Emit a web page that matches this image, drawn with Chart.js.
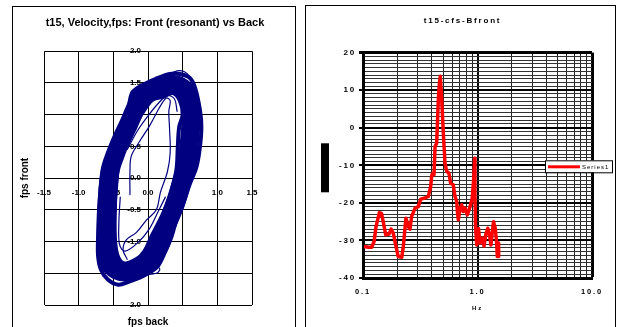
<!DOCTYPE html>
<html>
<head>
<meta charset="utf-8">
<script src="https://cdn.jsdelivr.net/npm/chart.js@4/dist/chart.umd.min.js"></script>
<style>
  body { margin: 0; background: #fff; width: 617px; height: 327px; overflow: hidden; position: relative; }
  .box { position: absolute; border: 1px solid #000; }
  canvas { position: absolute; top: 0; }
</style>
</head>
<body>
<div class="box" style="left:12px; top:6px; width:282px; height:340px;"></div>
<div class="box" style="left:305px; top:5px; width:309px; height:340px;"></div>
<canvas id="velocity" width="300" height="327" style="left:0px"></canvas>
<canvas id="spectrum" width="317" height="327" style="left:300px"></canvas>
<script>
// ---- left chart: front vs back velocity (fps) ----
const bandMid = [[0.12,1.40],[0.31,1.48],[0.50,1.42],[0.60,1.22],[0.62,0.95],[0.60,0.60],[0.56,0.25],[0.49,-0.05],[0.40,-0.39],[0.30,-0.66],[0.19,-0.92],[0.08,-1.18],[-0.05,-1.36],[-0.25,-1.47],[-0.45,-1.45],[-0.57,-1.30],[-0.60,-1.00],[-0.59,-0.45],[-0.55,0.10],[-0.47,0.38],[-0.38,0.62],[-0.28,0.85],[-0.17,1.12],[-0.05,1.32],[0.12,1.40]];
const outerLoop = [[0.12,1.57],[0.31,1.64],[0.46,1.64],[0.60,1.58],[0.68,1.42],[0.75,1.07],[0.77,0.81],[0.75,0.50],[0.70,0.18],[0.60,-0.10],[0.51,-0.39],[0.41,-0.66],[0.34,-0.92],[0.24,-1.18],[0.14,-1.39],[0.02,-1.49],[-0.12,-1.57],[-0.27,-1.63],[-0.43,-1.68],[-0.58,-1.60],[-0.68,-1.44],[-0.72,-1.23],[-0.72,-0.92],[-0.70,-0.39],[-0.65,0.10],[-0.55,0.34],[-0.46,0.50],[-0.36,0.81],[-0.27,1.18],[-0.22,1.36],[-0.07,1.47],[0.12,1.57]];
const innerLoop = [[0.22,1.28],[0.36,1.34],[0.46,1.22],[0.50,1.00],[0.45,0.81],[0.43,0.50],[0.41,0.13],[0.34,-0.18],[0.22,-0.55],[0.05,-0.92],[-0.05,-1.15],[-0.17,-1.28],[-0.36,-1.34],[-0.46,-1.13],[-0.48,-0.60],[-0.46,-0.13],[-0.41,0.29],[-0.27,0.60],[-0.17,0.86],[-0.02,1.13],[0.07,1.24],[0.22,1.28]];
const topOvershoot = [[0.28,1.62],[0.42,1.69],[0.52,1.68],[0.60,1.60],[0.67,1.40]];
const bottomBump = [[-0.10,-1.40],[0.08,-1.38],[0.17,-1.43],[0.12,-1.50],[-0.05,-1.52]];
const startTrace = [[-0.26,-0.26],[-0.26,0.12],[-0.24,0.35],[-0.12,0.58],[0.02,0.82],[0.16,1.10],[0.26,1.26],[0.32,1.22],[0.30,1.05],[0.31,0.80],[0.32,0.40],[0.28,0.10],[0.18,-0.22],[0.12,-0.50],[-0.02,-0.66],[-0.17,-0.86],[-0.31,-0.97],[-0.36,-1.13],[-0.30,-1.28]];
const innerTraceB = [[-0.40,-0.30],[-0.42,-0.70],[-0.41,-1.05],[-0.33,-1.15],[-0.15,-1.02],[0.02,-0.80],[0.15,-0.52],[0.25,-0.30]];
const innerTraceC = [[-0.30,0.45],[-0.15,0.75],[0.00,0.98],[0.15,1.18],[0.28,1.30],[0.38,1.25],[0.42,1.05]];

// ---- right chart: t15-cfs-Bfront spectrum ----
const freqHz = [0.102,0.112,0.119,0.125,0.130,0.139,0.145,0.151,0.158,0.169,0.176,0.184,0.193,0.203,0.218,0.225,0.237,0.249,0.257,0.266,0.285,0.304,0.319,0.348,0.372,0.390,0.399,0.411,0.417,0.426,0.440,0.455,0.465,0.473,0.487,0.503,0.520,0.538,0.563,0.583,0.614,0.636,0.658,0.670,0.680,0.703,0.727,0.752,0.778,0.815,0.861,0.900,0.925,0.945,0.950,0.962,0.985,1.02,1.05,1.10,1.14,1.18,1.23,1.28,1.31,1.35,1.38,1.43,1.47,1.49,1.52,1.53];
const levelDb = [-31.6,-31.8,-31.8,-30.3,-26.3,-22.6,-22.8,-25.4,-28.5,-28.3,-27.0,-28.1,-31.2,-34.3,-34.5,-31.6,-24.1,-26.3,-27.0,-23.6,-21.4,-21.0,-19.0,-18.7,-18.3,-15.6,-12.5,-12.1,-12.5,-5.0,-4.1,7.5,11.9,13.7,7.5,-1.4,-9.4,-11.6,-12.1,-14.8,-15.2,-18.3,-19.6,-22.8,-24.5,-21.9,-20.5,-22.3,-21.4,-23.2,-21.0,-18.7,-13.9,-8.1,-17.4,-26.3,-31.2,-26.8,-30.7,-29.4,-31.5,-28.5,-26.8,-29.0,-31.2,-27.6,-25.0,-26.8,-30.7,-34.3,-30.7,-34.3];
const hzTicks = [0.1,0.2,0.3,0.4,0.5,0.6,0.7,0.8,0.9,1,2,3,4,5,6,7,8,9,10];
const hzDecades = [0.1, 1, 10];

Chart.defaults.font.family = "'Liberation Sans', Arial, sans-serif";
Chart.defaults.color = '#000';

function toPoints(pairs) {
  return pairs.map(p => ({ x: p[0], y: p[1] }));
}

function loop(pairs, width) {
  return {
    data: toPoints(pairs),
    showLine: true,
    borderColor: '#000080',
    borderWidth: width,
    borderJoinStyle: 'round',
    borderCapStyle: 'round',
    pointRadius: 0,
    tension: 0.35,
  };
}

const axisNames = {
  id: 'axisNames',
  afterDraw(chart, args, opts) {
    const { ctx, chartArea } = chart;
    ctx.save();
    ctx.fillStyle = '#000';
    ctx.font = opts.font;
    ctx.textAlign = 'center';
    ctx.textBaseline = 'middle';
    let midX = (chartArea.left + chartArea.right) / 2;
    let midY = (chartArea.top + chartArea.bottom) / 2;
    ctx.fillText(opts.x, midX, chartArea.bottom + opts.xGap);
    ctx.translate(chartArea.left - opts.yGap, midY);
    ctx.rotate(-Math.PI / 2);
    ctx.fillText(opts.y, 0, 0);
    ctx.restore();
  }
};

// move the y axis onto x = 0 once the layout is done
const crossAxes = {
  id: 'crossAxes',
  afterLayout(chart) {
    const y = chart.scales.y;
    const x0 = chart.scales.x.getPixelForValue(0);
    y.left = x0 - 40;
    y.right = x0;
    y.width = 40;
  }
};

new Chart(document.getElementById('velocity'), {
  type: 'scatter',
  data: {
    datasets: [
      loop(bandMid, 19),
      loop(outerLoop, 4),
      loop(innerLoop, 4),
      loop(topOvershoot, 1.2),
      loop(bottomBump, 1.2),
      loop(startTrace, 1.2),
      loop(innerTraceB, 1.2),
      loop(innerTraceC, 1.2),
    ],
  },
  options: {
    responsive: false,
    animation: false,
    layout: { padding: { left: 44, right: 34, top: 0, bottom: 22 } },
    plugins: {
      legend: { display: false },
      tooltip: { enabled: false },
      title: {
        display: true,
        text: 't15, Velocity,fps: Front (resonant) vs Back',
        font: { size: 11, weight: 'bold' },
        padding: { top: 16, bottom: 22 },
      },
      axisNames: { x: 'fps back', y: 'fps front', font: "bold 10px 'Liberation Sans', Arial", xGap: 17, yGap: 19 },
    },
    scales: {
      x: {
        type: 'linear',
        min: -1.5,
        max: 1.5,
        position: { y: 0 },
        ticks: { stepSize: 0.5, autoSkip: false, maxRotation: 0, padding: 10, font: { size: 8, weight: 'bold' }, callback: v => v.toFixed(1) },
        grid: { color: '#000', lineWidth: 1, drawTicks: false },
        border: { color: '#000', width: 1 },
        afterFit: s => { s.height = 0; },
      },
      y: {
        min: -2,
        max: 2,
        position: 'left',
        ticks: { stepSize: 0.5, autoSkip: false, padding: 7, font: { size: 8, weight: 'bold' }, callback: v => v.toFixed(1) },
        grid: { color: '#000', lineWidth: 1, drawTicks: false },
        border: { color: '#000', width: 1 },
        afterFit: s => { s.width = 0; },
      },
      // empty strip on the right so the title sits where the original has it
      spacer: {
        type: 'linear',
        position: 'right',
        ticks: { display: false },
        grid: { display: false },
        border: { display: false },
        afterFit: s => { s.width = 14; },
      },
    },
  },
  plugins: [axisNames, crossAxes],
});

const spectrumExtras = {
  id: 'spectrumExtras',
  beforeLayout(chart) { chart.ctx.letterSpacing = '1.8px'; },
  beforeDraw(chart) { chart.ctx.letterSpacing = '1.8px'; },
  afterDraw(chart) {
    const { ctx, chartArea } = chart;
    const ds = chart.data.datasets[0];
    let midY = (chartArea.top + chartArea.bottom) / 2;
    ctx.save();
    // y title block (renders as a black bar in the original)
    ctx.fillStyle = '#000';
    ctx.fillRect(chartArea.left - 42, midY - 22, 8, 49);
    ctx.font = "bold 6px 'Liberation Sans', Arial";
    ctx.textAlign = 'center';
    ctx.textBaseline = 'middle';
    ctx.fillText('Hz', (chartArea.left + chartArea.right) / 2, chartArea.bottom + 30);
    // legend
    let lx = chartArea.right - 47;
    let ly = midY - 5;
    ctx.fillStyle = '#fff';
    ctx.fillRect(lx, ly, 67, 12);
    ctx.strokeStyle = '#000';
    ctx.lineWidth = 1;
    ctx.strokeRect(lx + 0.5, ly + 0.5, 67, 12);
    ctx.strokeStyle = ds.borderColor;
    ctx.lineWidth = 3;
    ctx.beginPath();
    ctx.moveTo(lx + 3, ly + 6.5);
    ctx.lineTo(lx + 35, ly + 6.5);
    ctx.stroke();
    ctx.fillStyle = '#000';
    ctx.font = "6px 'Liberation Sans', Arial";
    ctx.textAlign = 'left';
    ctx.letterSpacing = '1px';
    ctx.fillText(ds.label, lx + 37, ly + 7);
    ctx.restore();
  }
};

new Chart(document.getElementById('spectrum'), {
  type: 'line',
  data: {
    datasets: [{
      label: 'Series1',
      data: freqHz.map((f, i) => ({ x: f, y: levelDb[i] })),
      borderColor: '#ff0000',
      borderWidth: 3.5,
      borderJoinStyle: 'round',
      pointRadius: 0,
      tension: 0,
    }],
  },
  options: {
    responsive: false,
    animation: false,
    layout: { padding: { left: 33, right: 25, top: 0, bottom: 29 } },
    plugins: {
      legend: { display: false },
      tooltip: { enabled: false },
      title: {
        display: true,
        text: 't15-cfs-Bfront',
        font: { size: 8, weight: 'bold' },
        padding: { top: 16, bottom: 27 },
      },
    },
    scales: {
      x: {
        type: 'logarithmic',
        min: 0.1,
        max: 10,
        afterBuildTicks: s => { s.ticks = hzTicks.map(v => ({ value: v })); },
        ticks: {
          autoSkip: false, maxRotation: 0, padding: 9,
          font: { size: 7.5, weight: 'bold' },
          callback: v => hzDecades.includes(v) ? v.toFixed(1) : '',
        },
        grid: {
          color: ctx => hzDecades.includes(ctx.tick.value) ? '#000' : '#222',
          lineWidth: ctx => hzDecades.includes(ctx.tick.value) ? (ctx.tick.value === 10 ? 3 : 2) : 1,
          drawTicks: false,
        },
        border: { color: '#000', width: 3 },
        afterFit: s => { s.height = 20; },
      },
      y: {
        min: -40,
        max: 20,
        ticks: {
          stepSize: 1, autoSkip: false, padding: 3,
          font: { size: 8, weight: 'bold' },
          callback: v => v % 10 === 0 ? String(v) : '',
        },
        grid: {
          color: ctx => ctx.tick.value % 10 === 0 ? '#000' : '#333',
          lineWidth: ctx => ctx.tick.value % 10 === 0 ? (ctx.tick.value === 20 ? 3 : 2) : 1,
          tickColor: ctx => ctx.tick.value % 10 === 0 ? '#000' : 'rgba(0,0,0,0)',
          tickLength: 4,
        },
        border: { color: '#000', width: 3 },
        afterFit: s => { s.width = 30; },
      },
    },
  },
  plugins: [spectrumExtras],
});
</script>
</body>
</html>
